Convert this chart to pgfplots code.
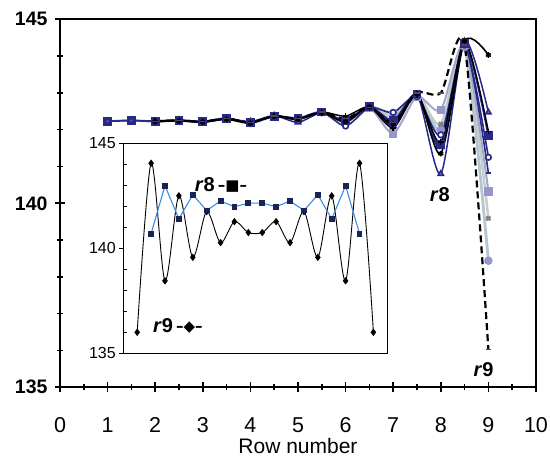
\documentclass[border=0pt]{standalone}
\usepackage{pgfplots}
\pgfplotsset{compat=1.18}
\usepackage{fontspec}
\setmainfont{Liberation Sans}
\newfontfamily\symfont{DejaVu Sans}

\definecolor{navy}{RGB}{40,40,135}
\definecolor{lav}{RGB}{150,150,205}
\definecolor{lgrey}{RGB}{195,203,205}
\definecolor{lblue}{RGB}{180,198,208}
\definecolor{insetblue}{RGB}{60,140,225}
\definecolor{insetsq}{RGB}{25,35,85}

\begin{document}
\begin{tikzpicture}
\begin{axis}[
    scale only axis,
    width=476pt, height=368pt,
    xmin=0, xmax=10, ymin=135, ymax=145,
    xtick={0,1,...,10}, ytick={135,140,145},
    minor x tick num=1, minor y tick num=4,
    tick pos=left,
    tick align=center,
    major tick length=10pt, minor tick length=6pt,
    every tick/.style={black, line width=1.6pt},
    axis line style={line width=2.2pt},
    /pgf/number format/assume math mode=true,
    xticklabel style={font=\fontsize{21.5}{21.5}\selectfont, anchor=base, yshift=-40pt},
    yticklabel style={font=\bfseries\fontsize{19.5}{19.5}\selectfont, xshift=-4pt},
    xlabel={Row number},
    xlabel style={font=\fontsize{21}{21}\selectfont, at={(axis description cs:0.5,0)}, anchor=base, yshift=-66pt},
    every axis plot/.append style={smooth, tension=0.45, mark size=2.8pt},
    clip=false,
]
% light series
\addplot[lblue, line width=2.8pt, mark=*, mark options={fill=lav, draw=lav}] coordinates {
(2,142.22) (2.5,142.25) (3,142.21) (3.5,142.30) (4,142.18) (4.5,142.36) (5,142.30) (5.5,142.47) (6,142.22) (6.5,142.62) (7,142.45) (7.5,142.90) (8,142.00) (8.5,144.25) (9,138.44)};
\addplot[lgrey, line width=2.4pt, mark=x, mark options={draw=gray}] coordinates {
(2,142.23) (2.5,142.25) (3,142.22) (3.5,142.31) (4,142.19) (4.5,142.37) (5,142.31) (5.5,142.48) (6,142.24) (6.5,142.63) (7,142.35) (7.5,142.95) (8,142.15) (8.5,144.30) (9,139.59)};
\addplot[lav!70!lgrey, line width=2pt, mark=square*, mark size=3.2pt, mark options={fill=lav, draw=lav}] coordinates {
(2,142.23) (2.5,142.26) (3,142.22) (3.5,142.30) (4,142.20) (4.5,142.37) (5,142.32) (5.5,142.48) (6,142.25) (6.5,142.60) (7,141.90) (7.5,142.90) (8,142.54) (8.5,144.30) (9,140.32)};
% navy series
\addplot[navy, line width=1.6pt, mark=*, mark options={fill=white, draw=navy}] coordinates {
(2,142.23) (2.5,142.25) (3,142.22) (3.5,142.30) (4,142.20) (4.5,142.37) (5,142.30) (5.5,142.48) (6,142.10) (6.5,142.60) (7,142.47) (7.5,142.90) (8,141.86) (8.5,144.30) (9,141.25)};
\addplot[navy, line width=1.6pt, mark=-, mark options={draw=navy, line width=1.6pt}] coordinates {
(2,142.23) (2.5,142.25) (3,142.22) (3.5,142.30) (4,142.20) (4.5,142.37) (5,142.30) (5.5,142.48) (6,142.25) (6.5,142.63) (7,142.20) (7.5,142.95) (8,141.50) (8.5,144.35) (9,140.82)};
\addplot[navy, line width=1.9pt, mark=square*, mark size=3.5pt, mark options={fill=navy}] coordinates {
(1,142.23) (1.5,142.25) (2,142.23) (2.5,142.25) (3,142.22) (3.5,142.30) (4,142.20) (4.5,142.37) (5,142.30) (5.5,142.48) (6,142.25) (6.5,142.63) (7,142.25) (7.5,142.97) (8,141.60) (8.5,144.35) (9,141.83)};
\addplot[navy, line width=1.5pt, mark=triangle*, mark size=3.2pt, mark options={fill=navy!70}] coordinates {
(1,142.23) (1.5,142.25) (2,142.22) (2.5,142.26) (3,142.20) (3.5,142.30) (4,142.22) (4.5,142.38) (5,142.20) (5.5,142.46) (6,142.20) (6.5,142.60) (7,142.10) (7.5,142.95) (8,140.80) (8.5,144.40) (9,142.47)};
% black series
\addplot[black, line width=1.4pt, mark=+, mark options={black}] coordinates {
(2,142.23) (2.5,142.25) (3,142.22) (3.5,142.30) (4,142.20) (4.5,142.37) (5,142.30) (5.5,142.48) (6,142.37) (6.5,142.62) (7,142.05) (7.5,142.95) (8,141.67) (8.5,144.40) (9,141.95)};
\addplot[black, line width=1.6pt, mark=asterisk, mark options={black}] coordinates {
(2,142.22) (2.5,142.24) (3,142.21) (3.5,142.28) (4,142.18) (4.5,142.36) (5,142.28) (5.5,142.46) (6,142.22) (6.5,142.62) (7,142.15) (7.5,142.97) (8,141.35) (8.5,144.40) (9,144.03)};
\addplot[black, line width=2.2pt, dash pattern=on 7pt off 4pt, mark=-, mark options={solid, line width=1.4pt, gray!60!black}] coordinates {
(2,142.23) (2.5,142.25) (3,142.22) (3.5,142.30) (4,142.20) (4.5,142.37) (5,142.30) (5.5,142.48) (6,142.30) (6.5,142.60) (7,142.20) (7.5,143.00) (8,143.00) (8.5,144.30) (9,136.02)};
\node[font=\bfseries\fontsize{20}{20}\selectfont] at (axis cs:7.98,140.23) {\textit{r}8};
\node[font=\bfseries\fontsize{20}{20}\selectfont] at (axis cs:8.9,135.47) {\textit{r}9};
\end{axis}

\begin{axis}[
    at={(63.3pt,34pt)}, anchor=south west,
    scale only axis,
    width=264pt, height=210pt,
    xmin=0, xmax=19, ymin=135, ymax=145,
    xtick=\empty, ytick={135,140,145},
    minor y tick num=4,
    ytick pos=left,
    major tick length=4pt, minor tick length=4pt,
    every major tick/.style={black, line width=0.8pt, xshift=-4pt},
    every minor tick/.style={black, line width=0.8pt},
    axis line style={line width=0.9pt},
    axis background/.style={fill=white},
    /pgf/number format/assume math mode=true,
    yticklabel style={font=\fontsize{16}{16}\selectfont, xshift=-4pt},
    clip=false,
]
\addplot[black, line width=0.9pt, smooth, mark=diamond*, mark size=3pt] coordinates {
(1,136.0) (2,144.05) (3,138.45) (4,142.5) (5,139.57) (6,141.75) (7,140.27) (8,141.27) (9,140.75)
(10,140.75) (11,141.27) (12,140.27) (13,141.75) (14,139.57) (15,142.5) (16,138.45) (17,144.05) (18,136.0)};
\addplot[insetblue, line width=1.1pt, mark=square*, mark size=2.4pt, mark options={fill=insetsq, draw=insetsq}] coordinates {
(2,140.7) (3,142.98) (4,141.4) (5,142.55) (6,141.8) (7,142.25) (8,141.98) (9,142.15)
(10,142.15) (11,141.98) (12,142.25) (13,141.8) (14,142.55) (15,141.4) (16,142.98) (17,140.7)};
\node[font=\bfseries\fontsize{20}{20}\selectfont] at (axis cs:7.03,143.0) {\textit{r}8\,{\mdseries\fontsize{15}{15}\symfont\raisebox{1pt}{\textbf{–}■\textbf{–}}}};
\node[font=\bfseries\fontsize{20}{20}\selectfont] at (axis cs:3.93,136.32) {\textit{r}9\,{\mdseries\fontsize{15}{15}\symfont\raisebox{1pt}{\textbf{–}◆\textbf{–}}}};
\end{axis}
\pgfresetboundingbox
\path (-60pt,-69.7pt) rectangle (490pt,387.3pt);
\end{tikzpicture}
\end{document}
